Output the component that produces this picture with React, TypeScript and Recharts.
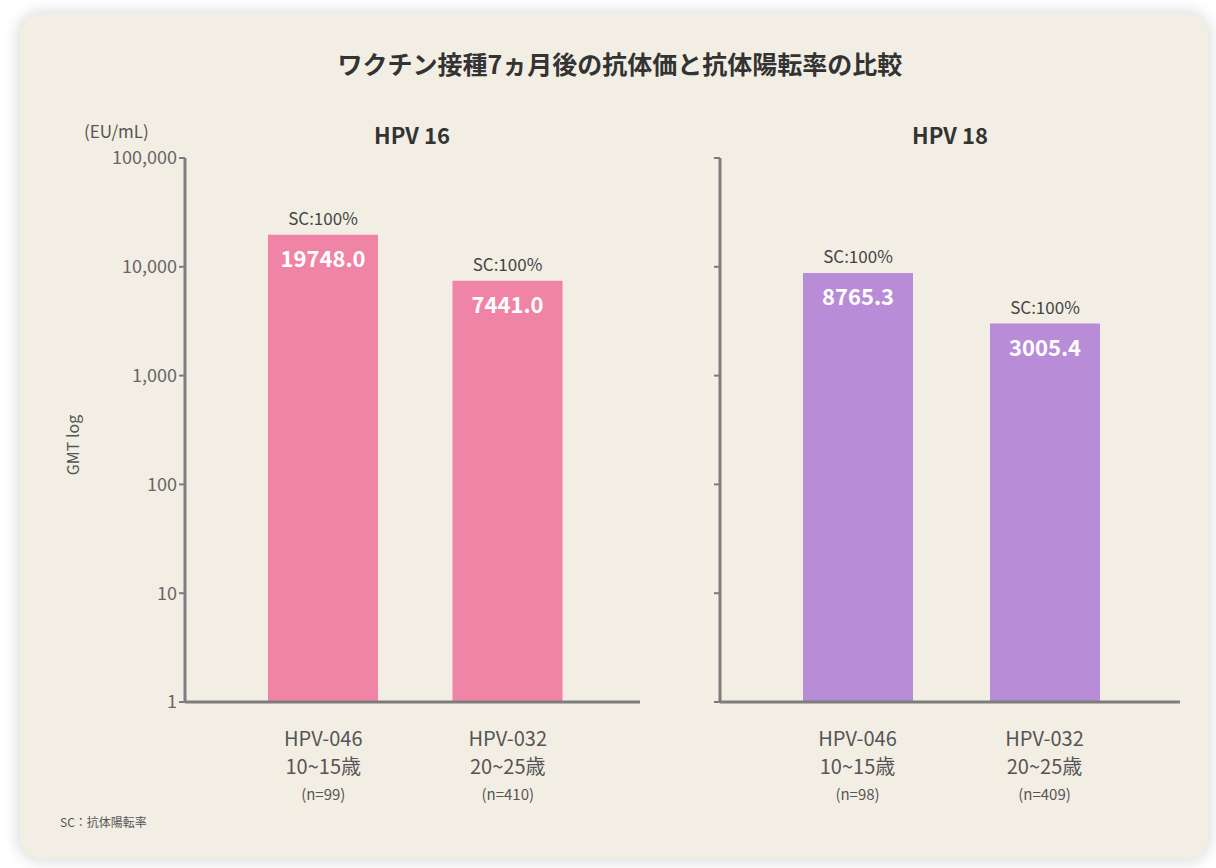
import React from 'react';
import { BarChart, Bar, XAxis, YAxis, LabelList } from 'recharts';

const groups = ['HPV-046', 'HPV-032'];
const ages = ['10~15歳', '20~25歳'];
const hpv16Counts = ['(n=99)', '(n=410)'];
const hpv18Counts = ['(n=98)', '(n=409)'];
const hpv16Gmt = [19748.0, 7441.0];
const hpv18Gmt = [8765.3, 3005.4];
const seroconversion = ['SC:100%', 'SC:100%'];
const yTicks = [1, 10, 100, 1000, 10000, 100000];

const FONT = '"Noto Sans CJK JP", "Noto Sans", sans-serif';
const PINK = '#f084a6';
const PURPLE = '#b98cd8';
const AXIS = '#7c7c7c';

const makeRows = (values: number[], counts: string[]) =>
  groups.map((g, i) => ({ name: g, age: ages[i], n: counts[i], gmt: values[i], sc: seroconversion[i] }));

const hpv16Data = makeRows(hpv16Gmt, hpv16Counts);
const hpv18Data = makeRows(hpv18Gmt, hpv18Counts);

const formatTick = (v: number) => (v >= 1000 ? v.toLocaleString('en-US') : String(v));

function CategoryTick(props: any) {
  const { x, y, payload, rows } = props;
  const row = rows[payload.index];
  return (
    <g transform={`translate(${x},${y})`}>
      <text textAnchor="middle" y={36} fontSize={20} fill="#555" fontFamily={FONT}>{row.name}</text>
      <text textAnchor="middle" y={64} fontSize={20} fill="#555" fontFamily={FONT}>{row.age}</text>
      <text textAnchor="middle" y={90} fontSize={15} fill="#555" fontFamily={FONT}>{row.n}</text>
    </g>
  );
}

function BarLabels(props: any) {
  const { x, y, width, value, index, rows } = props;
  const cx = x + width / 2;
  return (
    <g>
      <text x={cx} y={y - 10} textAnchor="middle" fontSize={17} fill="#444" fontFamily={FONT}>
        {rows[index].sc}
      </text>
      <text x={cx} y={y + 32} textAnchor="middle" fontSize={22} fontWeight="bold" fill="#fff" fontFamily={FONT}>
        {Number(value).toFixed(1)}
      </text>
    </g>
  );
}

function Panel({ rows, color, showLabels, width, yWidth, padL, padR }: any) {
  return (
    <BarChart width={width} height={868} data={rows} margin={{ top: 158, right: 20, bottom: 46, left: 0 }}>
      <XAxis
        dataKey="name"
        height={120}
        interval={0}
        padding={{ left: padL, right: padR }}
        axisLine={{ stroke: AXIS, strokeWidth: 3 }}
        tickLine={false}
        tick={<CategoryTick rows={rows} />}
      />
      <YAxis
        scale="log"
        domain={[1, 100000]}
        ticks={yTicks}
        allowDataOverflow
        width={yWidth}
        axisLine={{ stroke: AXIS, strokeWidth: 3 }}
        tickLine={{ stroke: AXIS, strokeWidth: 2 }}
        tickSize={6}
        tick={{ fontSize: 18, fill: '#666', fontFamily: FONT }}
        tickFormatter={showLabels ? formatTick : () => ''}
      />
      <Bar dataKey="gmt" fill={color} barSize={110} isAnimationActive={false}>
        <LabelList dataKey="gmt" content={<BarLabels rows={rows} />} />
      </Bar>
    </BarChart>
  );
}

export default function App() {
  const text = (style: React.CSSProperties, children: React.ReactNode) => (
    <div style={{ position: 'absolute', fontFamily: FONT, color: '#444', whiteSpace: 'nowrap', ...style }}>{children}</div>
  );
  return (
    <div style={{ position: 'absolute', left: 0, top: 0, width: 1216, height: 868, background: '#fff', overflow: 'hidden' }}>
      <div
        style={{
          position: 'absolute', left: 20, top: 14, width: 1188, height: 845,
          background: '#f2eee4', borderRadius: 22, boxShadow: '0 0 14px 4px rgba(0,0,0,0.12)',
        }}
      />
      <div style={{ position: 'absolute', left: 0, top: 0 }}>
        <Panel rows={hpv16Data} color={PINK} showLabels width={660} yWidth={185} padL={46} padR={40} />
      </div>
      <div style={{ position: 'absolute', left: 660, top: 0 }}>
        <Panel rows={hpv18Data} color={PURPLE} showLabels={false} width={540} yWidth={60} padL={44} padR={42} />
      </div>
      {text({ left: 0, width: 1240, top: 45, textAlign: 'center', fontSize: 25, fontWeight: 'bold', color: '#333' }, 'ワクチン接種7ヵ月後の抗体価と抗体陽転率の比較')}
      {text({ left: 362, width: 100, top: 118, textAlign: 'center', fontSize: 22, fontWeight: 'bold', color: '#333' }, 'HPV 16')}
      {text({ left: 900, width: 100, top: 118, textAlign: 'center', fontSize: 22, fontWeight: 'bold', color: '#333' }, 'HPV 18')}
      {text({ left: 84, top: 118, fontSize: 17, color: '#555' }, '(EU/mL)')}
      {text({ left: 72, top: 445, fontSize: 16, color: '#555', transform: 'translate(-50%, -50%) rotate(-90deg)' }, 'GMT log')}
      {text({ left: 60, top: 813, fontSize: 12, color: '#555' }, 'SC：抗体陽転率')}
    </div>
  );
}
